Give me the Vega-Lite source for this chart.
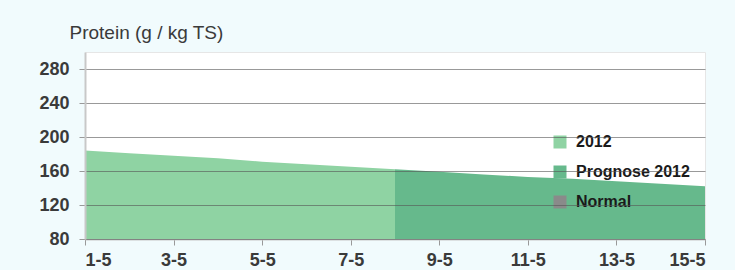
{
  "$schema": "https://vega.github.io/schema/vega-lite/v6.json",
  "autosize": "none",
  "width": 620,
  "height": 187,
  "padding": {"left": 85, "top": 52, "right": 30, "bottom": 31},
  "background": "#f1fbfd",
  "config": {
    "font": "Liberation Sans",
    "view": {"fill": "#ffffff", "stroke": "#e6e6e6", "strokeWidth": 1}
  },
  "data": {
    "values": [
      {"day": 1, "protein": 184, "serie": "2012"},
      {"day": 2, "protein": 181, "serie": "2012"},
      {"day": 3, "protein": 178, "serie": "2012"},
      {"day": 4, "protein": 175, "serie": "2012"},
      {"day": 5, "protein": 171, "serie": "2012"},
      {"day": 6, "protein": 168, "serie": "2012"},
      {"day": 7, "protein": 165, "serie": "2012"},
      {"day": 8, "protein": 162, "serie": "2012"},
      {"day": 8, "protein": 162, "serie": "Prognose 2012"},
      {"day": 9, "protein": 159, "serie": "Prognose 2012"},
      {"day": 10, "protein": 156, "serie": "Prognose 2012"},
      {"day": 11, "protein": 153, "serie": "Prognose 2012"},
      {"day": 12, "protein": 151, "serie": "Prognose 2012"},
      {"day": 13, "protein": 148, "serie": "Prognose 2012"},
      {"day": 14, "protein": 145, "serie": "Prognose 2012"},
      {"day": 15, "protein": 142, "serie": "Prognose 2012"}
    ]
  },
  "mark": {"type": "area", "interpolate": "linear", "opacity": 1},
  "encoding": {
    "x": {
      "field": "day",
      "type": "quantitative",
      "scale": {"domain": [1, 15], "nice": false, "zero": false},
      "axis": {
        "values": [1, 3, 5, 7, 9, 11, 13, 15],
        "labelExpr": "datum.value + '-5'",
        "title": null,
        "grid": false,
        "domainColor": "#c8c8c8",
        "domainWidth": 2,
        "tickColor": "#999999",
        "tickSize": 6,
        "labelFont": "Liberation Sans",
        "labelFontSize": 18,
        "labelFontWeight": "bold",
        "labelColor": "#3a3a3a",
        "labelPadding": 6
      }
    },
    "y": {
      "field": "protein",
      "type": "quantitative",
      "scale": {"domain": [80, 300], "nice": false, "zero": false},
      "axis": {
        "values": [80, 120, 160, 200, 240, 280],
        "title": "Protein (g / kg TS)",
        "titleAngle": 0,
        "titleAlign": "left",
        "titleBaseline": "alphabetic",
        "titleX": -16,
        "titleY": -14,
        "titleFont": "Liberation Sans",
        "titleFontSize": 19,
        "titleFontWeight": "normal",
        "titleColor": "#3a3a3a",
        "grid": true,
        "gridColor": "#555555",
        "gridOpacity": 0.6,
        "gridWidth": 1,
        "zindex": 1,
        "domainColor": "#c8c8c8",
        "domainWidth": 2,
        "tickColor": "#999999",
        "tickSize": 6,
        "labelFont": "Liberation Sans",
        "labelFontSize": 18,
        "labelFontWeight": "bold",
        "labelColor": "#3a3a3a",
        "labelPadding": 10
      }
    },
    "y2": {"datum": 80},
    "color": {
      "field": "serie",
      "type": "nominal",
      "scale": {
        "domain": ["2012", "Prognose 2012", "Normal"],
        "range": ["#8fd3a3", "#66b98c", "#8a8a8a"]
      },
      "legend": {
        "orient": "none",
        "legendX": 467,
        "legendY": 82,
        "title": null,
        "symbolType": "square",
        "symbolSize": 169,
        "symbolStrokeWidth": 0,
        "symbolOpacity": 1,
        "labelFont": "Liberation Sans",
        "labelFontSize": 16,
        "labelFontWeight": "bold",
        "labelColor": "#1a1a1a",
        "labelOffset": 8,
        "rowPadding": 14
      }
    }
  }
}
